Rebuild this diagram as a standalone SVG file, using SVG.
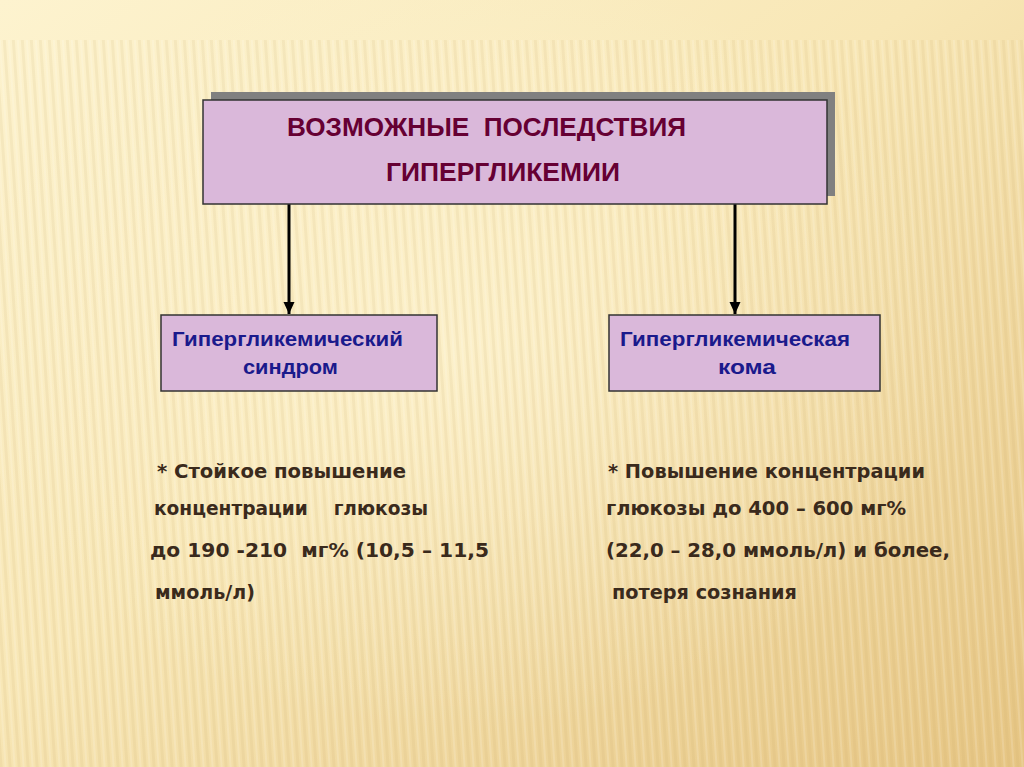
<svg xmlns="http://www.w3.org/2000/svg" width="1024" height="767" viewBox="0 0 1024 767">
<defs>
<linearGradient id="bg" x1="0" y1="0" x2="1" y2="1">
<stop offset="0" stop-color="#fdf3cf"/>
<stop offset="0.45" stop-color="#f8e7b6"/>
<stop offset="1" stop-color="#e6c583"/>
</linearGradient>
<radialGradient id="glow" cx="0.45" cy="0.45" r="0.5">
<stop offset="0" stop-color="#fff6d6" stop-opacity="0.6"/>
<stop offset="1" stop-color="#fff6d6" stop-opacity="0"/>
</radialGradient>
<pattern id="stripes" width="9" height="767" patternUnits="userSpaceOnUse" patternTransform="skewX(4)">
<rect x="0" y="0" width="3" height="767" fill="#c9a560" fill-opacity="0.12"/>
<rect x="5" y="0" width="2" height="767" fill="#ffffff" fill-opacity="0.15"/>
</pattern>
<marker id="ah" viewBox="0 0 12 12" refX="12" refY="6" markerWidth="12" markerHeight="12" markerUnits="userSpaceOnUse" orient="auto">
<path d="M0,0.5 L12,6 L0,11.5 z" fill="#000"/>
</marker>
<style>
.box{fill:#dab8da;stroke:#333;stroke-width:1.5}
.shadow{fill:#808080}
text{white-space:pre}
.title{font-family:"Liberation Sans",Arial,sans-serif;font-weight:bold;font-size:25px;fill:#660033}
.sub{font-family:"Liberation Sans",Arial,sans-serif;font-weight:bold;font-size:21px;fill:#1a1a8c}
.note{font-family:"DejaVu Sans","Liberation Sans",sans-serif;font-weight:bold;font-size:20px;fill:#3a2a1c}
.conn{stroke:#000;stroke-width:3;fill:none}
</style>
</defs>
<rect width="1024" height="767" fill="url(#bg)"/>
<rect width="1024" height="767" fill="url(#glow)"/>
<rect x="0" y="40" width="1024" height="727" fill="url(#stripes)"/>

<g id="connectors">
<line class="conn" x1="289" y1="204" x2="289" y2="314" marker-end="url(#ah)"/>
<line class="conn" x1="735" y1="204" x2="735" y2="314" marker-end="url(#ah)"/>
</g>

<g id="top">
<rect class="shadow" x="211" y="92" width="624" height="104"/>
<rect class="box" x="203" y="100" width="624" height="104"/>
<text class="title" x="287" y="136" textLength="399" lengthAdjust="spacingAndGlyphs" xml:space="preserve">ВОЗМОЖНЫЕ  ПОСЛЕДСТВИЯ</text>
<text class="title" x="386" y="181" textLength="234" lengthAdjust="spacingAndGlyphs">ГИПЕРГЛИКЕМИИ</text>
</g>

<g id="left">
<rect class="box" x="161" y="315" width="276" height="76"/>
<text class="sub" x="172" y="346" textLength="231" lengthAdjust="spacingAndGlyphs">Гипергликемический</text>
<text class="sub" x="243" y="374" textLength="95" lengthAdjust="spacingAndGlyphs">синдром</text>
</g>

<g id="right">
<rect class="box" x="609" y="315" width="271" height="76"/>
<text class="sub" x="620" y="346" textLength="230" lengthAdjust="spacingAndGlyphs">Гипергликемическая</text>
<text class="sub" x="718" y="374" textLength="58" lengthAdjust="spacingAndGlyphs">кома</text>
</g>

<g id="left-note">
<text class="note" x="157" y="478" textLength="249" lengthAdjust="spacingAndGlyphs">* Стойкое повышение</text>
<text class="note" x="154" y="515" textLength="274" lengthAdjust="spacingAndGlyphs" xml:space="preserve">концентрации    глюкозы</text>
<text class="note" x="150" y="557" textLength="339" lengthAdjust="spacingAndGlyphs" xml:space="preserve">до 190 -210  мг% (10,5 – 11,5</text>
<text class="note" x="155" y="599" textLength="100" lengthAdjust="spacingAndGlyphs">ммоль/л)</text>
</g>

<g id="right-note">
<text class="note" x="608" y="478" textLength="317" lengthAdjust="spacingAndGlyphs">* Повышение концентрации</text>
<text class="note" x="606" y="515" textLength="300" lengthAdjust="spacingAndGlyphs">глюкозы до 400 – 600 мг%</text>
<text class="note" x="606" y="557" textLength="344" lengthAdjust="spacingAndGlyphs">(22,0 – 28,0 ммоль/л) и более,</text>
<text class="note" x="612" y="599" textLength="185" lengthAdjust="spacingAndGlyphs">потеря сознания</text>
</g>
</svg>
